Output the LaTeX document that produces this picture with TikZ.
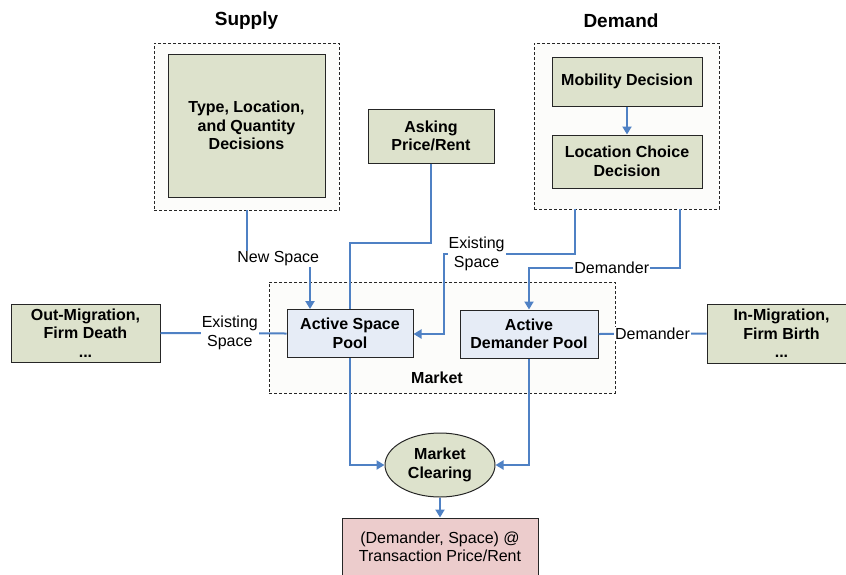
\documentclass[tikz,border=0pt]{standalone}
\usepackage{fontspec}
\setmainfont{Liberation Sans}
\usetikzlibrary{positioning}
\usetikzlibrary{arrows.meta}
\usetikzlibrary{shapes.geometric}

\definecolor{boxgreen}{RGB}{221,226,204}
\definecolor{poolblue}{RGB}{230,236,246}
\definecolor{resultpink}{RGB}{236,204,204}
\definecolor{groupgray}{RGB}{252,252,250}
\definecolor{flowblue}{RGB}{79,129,196}

\begin{document}
\begin{tikzpicture}[x=1pt, y=-1pt, font=\fontsize{16}{18.5}\selectfont,
    groupbox/.style={draw=black!85, dash pattern=on 3pt off 2pt, line width=0.8pt, fill=groupgray, inner sep=0pt},
    greenbox/.style={rectangle, draw=black!85, line width=1pt, fill=boxgreen, align=center, inner sep=0pt, font=\fontsize{16}{18.5}\selectfont\bfseries},
    poolbox/.style={greenbox, fill=poolblue},
    flow/.style={draw=flowblue, line width=2pt},
    lbl/.style={fill=white, inner sep=1pt, align=center, font=\fontsize{16}{19}\selectfont},
    title/.style={font=\fontsize{19}{22}\selectfont\bfseries}]
    \useasboundingbox (0,0) rectangle (846,574);

    % supply side
    \node[groupbox, minimum width=185pt, minimum height=167pt] (supplygrp) at (246.5,126.5) {};
    \node[title] (supplytitle) at (246.5,21) {Supply};
    \node[greenbox, minimum width=157pt, minimum height=143pt] (typebox) at (246.5,125.5) {Type, Location,\\and Quantity\\Decisions};
    \node[greenbox, minimum width=126pt, minimum height=54pt] (asking) at (431,136) {Asking\\Price/Rent};

    % demand side
    \node[groupbox, minimum width=185pt, minimum height=166pt] (demandgrp) at (626.5,126) {};
    \node[title] (demandtitle) at (621,21) {Demand};
    \node[greenbox, minimum width=150pt, minimum height=49pt] (mobility) at (627,81.5) {Mobility Decision};
    \node[greenbox, minimum width=150pt, minimum height=53pt] (location) [below=28pt of mobility] {Location Choice\\Decision};

    % market
    \node[groupbox, minimum width=346pt, minimum height=111pt] (market) at (442,337.5) {};
    \node[font=\fontsize{16}{18.5}\selectfont\bfseries] (marketlbl) at (437,378) {Market};
    \node[poolbox, minimum width=126pt, minimum height=48pt] (spacepool) at (350,333.5) {Active Space\\Pool};
    \node[poolbox, minimum width=138pt, minimum height=48pt] (dempool) at (529,334) {Active\\Demander Pool};
    \node[greenbox, minimum width=149pt, minimum height=58pt] (outmig) at (85.5,333) {Out-Migration,\\Firm Death\\...};
    \node[greenbox, minimum width=149pt, minimum height=59pt] (inmig) at (781.5,333.5) {In-Migration,\\Firm Birth\\...};
    \node[greenbox, ellipse, minimum width=110pt, minimum height=64pt] (clearing) at (440,465) {Market\\Clearing};
    \node[greenbox, fill=resultpink, minimum width=196pt, minimum height=58pt, font=\fontsize{16}{18.5}\selectfont] (result) at (440,547) {(Demander, Space) @\\Transaction Price/Rent};

    % connectors
    \draw[flow, -{Triangle[length=8pt, width=9pt]}] (supplygrp.south) -- (246.5,259) -- node[lbl] {New Space} (310,259) -- ([xshift=-40pt]spacepool.north);
    \draw[flow] (asking.south) -- (431,243) -- (350,243) -- (spacepool.north);
    \draw[flow, -{Triangle[length=8pt, width=9pt]}] ([xshift=-52pt]demandgrp.south) -- (574.5,254) -- node[lbl, pos=0.75] {Existing\\Space} (444,254) -- (444,334) -- (spacepool.east |- 0,334);
    \draw[flow, -{Triangle[length=8pt, width=9pt]}] ([xshift=53pt]demandgrp.south) -- (679.5,268) -- node[lbl, pos=0.45] {Demander} (529,268) -- (dempool.north);
    \draw[flow, -{Triangle[length=8pt, width=9pt]}] (mobility) -- (location);
    \draw[flow] (outmig.east) -- node[lbl, pos=0.55] {Existing\\Space} (spacepool.west);
    \draw[flow] (inmig.west) -- node[lbl] {Demander} (dempool.east);
    \draw[flow, -{Triangle[length=8pt, width=9pt]}] (spacepool.south) |- (clearing.west);
    \draw[flow, -{Triangle[length=8pt, width=9pt]}] (dempool.south) |- (clearing.east);
    \draw[flow, -{Triangle[length=8pt, width=9pt]}] (clearing) -- (result);
\end{tikzpicture}
\end{document}
